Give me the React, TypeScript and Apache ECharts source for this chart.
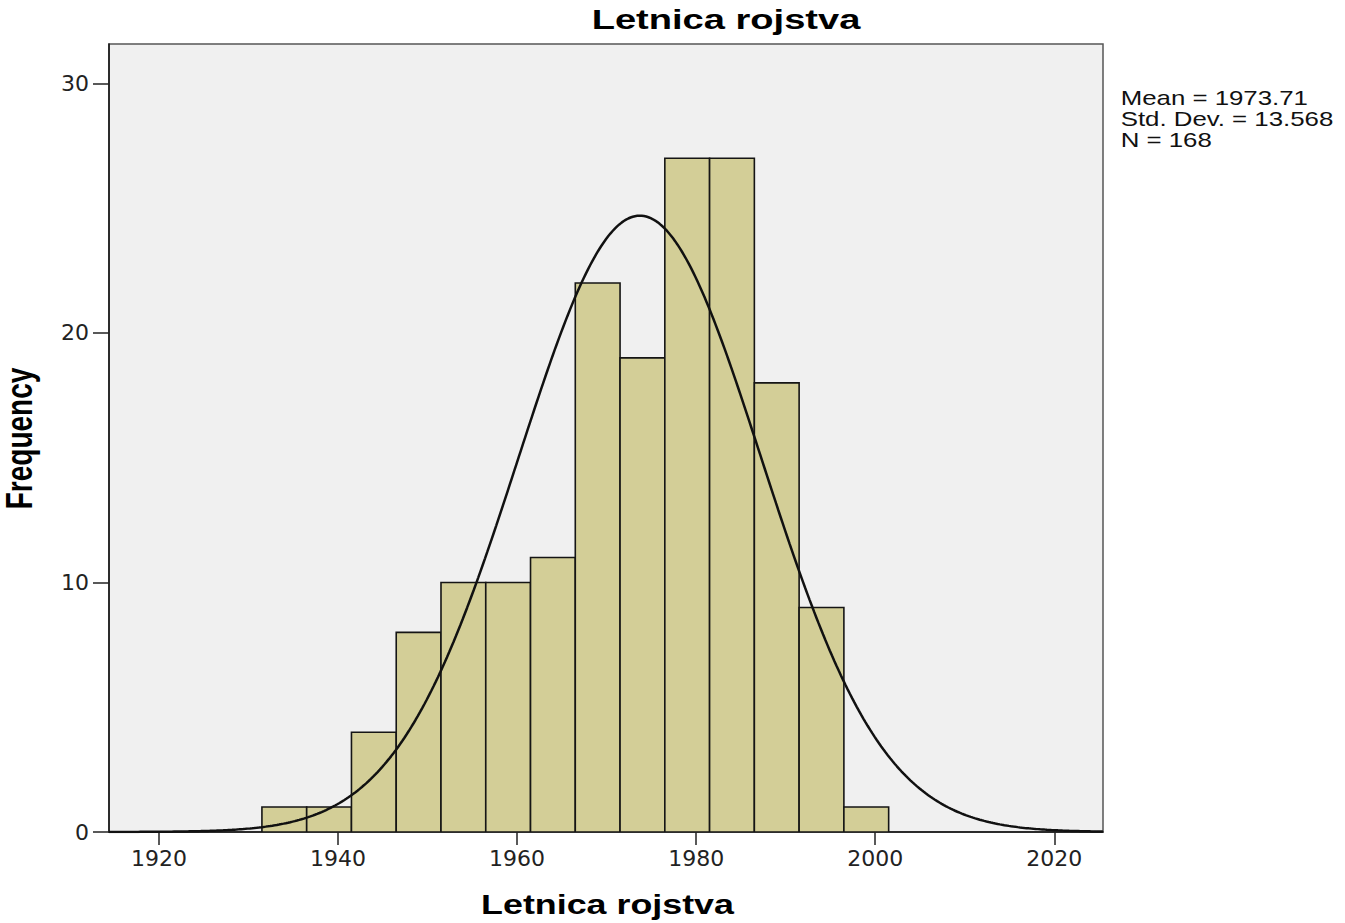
import React, { useEffect, useRef } from "react";
import * as echarts from "echarts";

const binStarts = [1931.5, 1936.5, 1941.5, 1946.5, 1951.5, 1956.5, 1961.5, 1966.5, 1971.5, 1976.5, 1981.5, 1986.5, 1991.5, 1996.5];
const frequencies = [1, 1, 4, 8, 10, 10, 11, 22, 19, 27, 27, 18, 9, 1];
const binWidth = 5;
const xTicks = [1920, 1940, 1960, 1980, 2000, 2020];
const yTicks = [0, 10, 20, 30];
const statMean = 1973.71;
const statSd = 13.568;
const statN = 168;
const statLines = ["Mean = 1973.71", "Std. Dev. = 13.568", "N = 168"];
const titleText = "Letnica rojstva";
const xName = "Letnica rojstva";
const yName = "Frequency";

const xMin = 1914.42;
const xMax = 2025.44;
const yMax = 31.58;

function normalCurve(): number[][] {
  const pts: number[][] = [];
  const scale = (statN * binWidth) / (statSd * Math.sqrt(2 * Math.PI));
  for (let x = xMin; x <= xMax + 1e-9; x += 0.25) {
    const z = (x - statMean) / statSd;
    pts.push([x, scale * Math.exp(-0.5 * z * z)]);
  }
  return pts;
}

export default function App() {
  const ref = useRef<HTMLDivElement>(null);
  useEffect(() => {
    if (!ref.current) return;
    const chart = echarts.init(ref.current, null, { renderer: "svg" });
    const labelFont = { fontFamily: "DejaVu Sans", fontSize: 22, color: "#222" };
    chart.setOption({
      animation: false,
      backgroundColor: "#ffffff",
      grid: {
        left: 109,
        top: 44,
        right: 1345 - 1103,
        bottom: 923 - 832,
        show: true,
        backgroundColor: "#f0f0f0",
        borderColor: "#555",
        borderWidth: 1.5,
      },
      xAxis: {
        type: "value",
        min: xMin,
        max: xMax,
        axisLine: { show: true, lineStyle: { color: "#111", width: 1.5 } },
        axisTick: { show: true, customValues: xTicks, length: 13, lineStyle: { color: "#222", width: 1.5 } },
        axisLabel: { customValues: xTicks, margin: 15, formatter: (v: number) => String(v), ...labelFont },
        splitLine: { show: false },
      },
      yAxis: {
        type: "value",
        min: 0,
        max: yMax,
        axisLine: { show: true, lineStyle: { color: "#111", width: 1.5 } },
        axisTick: { show: true, customValues: yTicks, length: 16, lineStyle: { color: "#222", width: 1.5 } },
        axisLabel: { customValues: yTicks, margin: 20, padding: [7, 0, 0, 0], formatter: (v: number) => String(v), ...labelFont },
        splitLine: { show: false },
      },
      series: [
        {
          type: "custom",
          data: binStarts.map((s, i) => [s, frequencies[i]]),
          encode: { x: 0, y: 1 },
          clip: true,
          renderItem: (params: any, api: any) => {
            const x0 = api.value(0);
            const h = api.value(1);
            const p0 = api.coord([x0, h]);
            const p1 = api.coord([x0 + binWidth, 0]);
            return {
              type: "rect",
              shape: { x: p0[0], y: p0[1], width: p1[0] - p0[0], height: p1[1] - p0[1] },
              style: { fill: "#d3ce97", stroke: "#151515", lineWidth: 1.6 },
            };
          },
          z: 2,
        },
        {
          type: "line",
          data: normalCurve(),
          showSymbol: false,
          symbol: "none",
          smooth: false,
          clip: true,
          lineStyle: { color: "#111", width: 2.5 },
          z: 3,
        },
      ],
      graphic: [
        {
          type: "text",
          x: 726,
          y: 19,
          scaleX: 1.36,
          style: {
            text: titleText,
            fontFamily: "Liberation Sans",
            fontWeight: "bold",
            fontSize: 28,
            fill: "#000",
            align: "center",
            verticalAlign: "middle",
          },
        },
        {
          type: "text",
          x: 607.5,
          y: 904,
          scaleX: 1.28,
          style: {
            text: xName,
            fontFamily: "Liberation Sans",
            fontWeight: "bold",
            fontSize: 28,
            fill: "#000",
            align: "center",
            verticalAlign: "middle",
          },
        },
        {
          type: "text",
          x: 20,
          y: 438.5,
          rotation: Math.PI / 2,
          scaleY: 1.3,
          style: {
            text: yName,
            fontFamily: "Liberation Sans",
            fontWeight: "bold",
            fontSize: 28,
            fill: "#000",
            align: "center",
            verticalAlign: "middle",
          },
        },
        ...statLines.map((t, i) => ({
          type: "text",
          x: 1120.7,
          y: 97.5 + i * 21.3,
          scaleX: 1.23,
          style: {
            text: t,
            fontFamily: "Liberation Sans",
            fontSize: 21,
            fill: "#111",
            align: "left",
            verticalAlign: "middle",
          },
        })),
      ],
    });
    return () => chart.dispose();
  }, []);
  return (
    <div
      ref={ref}
      style={{ position: "fixed", left: 0, top: 0, width: 1345, height: 923 }}
    />
  );
}
